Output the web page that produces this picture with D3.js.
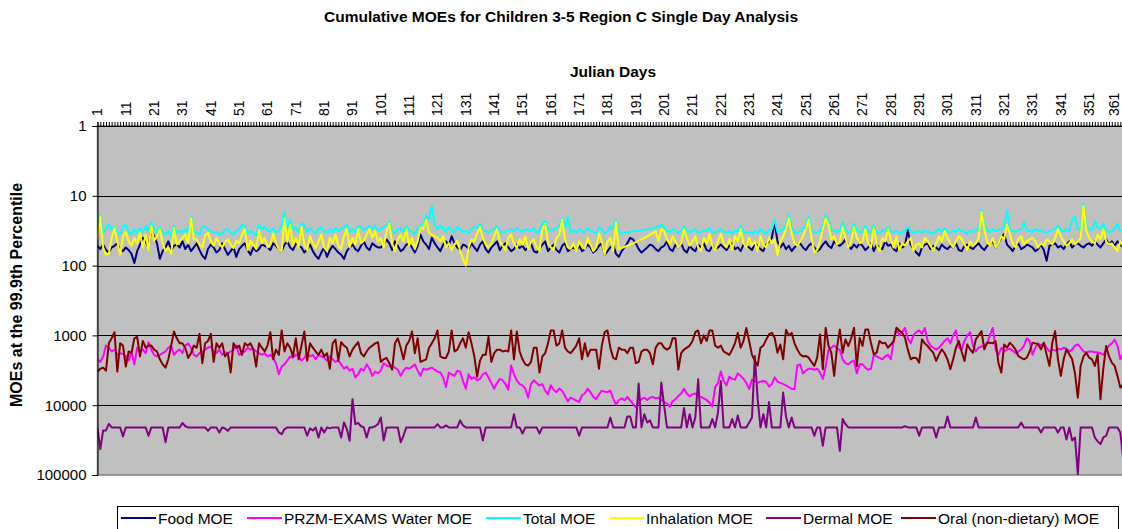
<!DOCTYPE html>
<html><head><meta charset="utf-8">
<script src="https://cdn.jsdelivr.net/npm/d3@7"></script>
<style>body{margin:0;background:#fff;} svg{display:block;font-family:Arial,"Liberation Sans",sans-serif;}</style>
</head><body><svg id="chart" width="1122" height="529"></svg>
<script>
const food = [52,58,50,60,65,55,52,48,58,62, 55,60,68,92,62,50,40,45,55,30, 38,48,80,62,55,45,60,52,50,55, 45,58,50,62,55,48,60,72,80,58, 50,55,65,60,48,58,70,62,55,75, 58,52,48,60,70,55,62,58,50,52, 55,60,48,52,58,62,50,45,55,60, 48,52,55,65,58,50,62,72,80,65, 55,75,60,52,58,65,70,80,62,55, 50,58,62,52,45,55,60,48,52,55,
55,50,42,48,60,45,52,62,58,50, 48,55,65,52,36,45,50,58,40,48, 55,62,50,45,52,38,48,55,60,50, 52,58,48,55,62,50,45,58,65,55, 50,45,60,52,48,55,62,58,50,56, 52,60,55,48,62,65,58,50,45,62, 55,50,60,65,52,48,62,58,55,60, 52,62,58,50,55,65,60,52,48,70, 62,55,50,68,75,62,55,48,40,42, 48,58,65,60,55,50,52,58,62,55,
52,45,58,62,50,55,48,60,65,52, 58,62,50,55,48,60,62,52,58,55, 50,55,60,52,48,58,55,62,50,52, 55,60,48,52,58,62,50,45,40,24, 45,55,48,58,52,62,55,50,48,55, 60,52,48,55,62,58,50,45,52,56, 45,50,52,48,42,52,58,50,55,48, 52,60,55,48,62,50,55,58,45,52, 50,58,62,48,55,52,31,50,58,65, 72,55,50,48,58,52,55,60,50,55,
58,52,55,48,60,62,52,50,55,58, 52,48,55,60,52,50,45,55,48,40, 35,50,55,62,52,48,58,55,50,52, 55,62,58,50,60,85,52,50,48,55, 52,58,50,45,55,50,48,52,55,50, 48,52,45,50,55,48,42,50,45,52, 45,50,55,48,52];

const water = [2200,2400,2000,1400,1500,1700,1600,1900,1800,1850, 2000,2300,1700,2600,1500,1700,1600,1800,1250,1600, 1900,2000,1900,1800,1700,1500,1400,1900,1700,1600, 1800,1400,1300,1500,1900,2000,1800,1700,1600,1500, 1450,1700,1800,1600,1900,1750,1800,1700,1600,1400, 1900,1800,1700,1500,1600,1550,1700,1800,1900,1800, 2000,1900,2100,2500,3600,2800,2600,2300,2000,2100, 1900,2000,2300,2100,1800,2000,1900,2200,1900,2000, 2100,2300,2000,2200,2400,2300,2600,3000,2800,3200, 3000,4000,3600,3000,3200,2600,3000,3800,3300,3500,
3200,2500,2700,2800,2700,2900,3100,3800,3200,2900, 3000,2800,2600,3200,3800,3000,3100,3000,2900,3100, 3300,3400,4000,5500,3400,3600,3800,3200,3300,4500, 5800,3600,4200,4000,4400,4200,3600,3400,4000,4800, 5800,4800,4200,4400,5000,6000,2700,3600,4400,5000, 5200,5800,7800,5000,4400,4800,5200,5000,6200,7000, 5200,6000,6500,5800,6200,7400,8800,7800,8200,8600, 9000,7200,6800,5800,6500,7600,8200,7000,6200,6400, 6500,6200,8000,9800,8500,8000,8500,7600,8500,9500, 10800,9000,8200,7800,8400,7800,7600,8000,7800,8400,
9000,9500,10500,8800,8200,7400,6800,5800,6800,7500, 7000,6800,7400,7600,8000,8400,9200,10400,5500,4800, 3300,4500,5200,3900,4200,4300,3500,3800,4200,4800, 5900,4300,4500,4800,4600,4500,4600,5400,5000,4000, 4600,4800,5000,5200,5500,5800,5900,2700,2600,3500, 3200,3000,3000,3100,3000,3400,4200,2800,1600,1500, 1400,1550,1600,2200,2500,2600,2400,2300,3500,2600, 2600,2900,3100,3000,1900,2000,2100,2200,2000,1900, 2200,1200,800,1000,900,780,1100,1300,1000,900, 850,950,780,1200,1400,1500,1600,1500,1350,1200,
1100,1300,1000,850,1500,1600,1200,1000,900,1400, 1700,1500,1450,1400,1300,1000,780,1600,1900,1500, 1700,1600,1550,1650,1800,1700,1600,1400,1100,1200, 1900,1500,1300,1400,1300,1500,1700,1600,1650,1550, 1600,1500,1550,1700,1600,1400,1350,1500,1700,1750, 1700,1700,1750,1750,1800,1900,1600,1400,1300,1150, 1400,2200,1800,1600,1700];

const total = [22,19,34,30,26,30,28,33,36,27, 26,33,36,30,34,29,33,27,32,24, 30,33,28,34,36,32,38,27,34,32, 33,30,34,20,32,34,36,27,28,30, 32,34,33,36,35,31,30,34,36,32, 30,26,27,35,32,34,37,26,30,28, 31,33,29,34,32,26,17,30,22,30, 28,34,25,26,33,29,32,35,30,28, 32,34,30,33,29,32,30,28,26,33, 30,33,27,28,31,29,27,30,27,32,
30,28,27,24,32,34,30,29,33,27, 31,33,35,30,26,27,19,22,14,26, 30,27,29,33,28,31,34,28,30,33, 32,34,30,28,29,25,30,32,34,31, 30,27,32,34,33,31,30,32,29,31, 33,30,31,32,29,34,32,25,23,30, 32,30,29,27,21,29,20,33,31,34, 30,32,34,29,31,33,35,28,30,35, 33,27,30,22,34,35,34,33,33,32, 32,32,31,31,30,30,29,28,28,26,
28,32,33,30,31,34,32,27,31,33, 32,30,34,33,31,32,29,33,34,32, 30,33,34,32,35,31,33,27,32,34, 33,35,32,34,30,33,35,31,30,22, 33,32,30,26,19,28,33,34,32,30, 26,20,31,34,33,32,26,19,23,32, 31,33,32,24,31,34,33,25,31,33, 33,27,32,34,26,33,35,31,32,28, 32,34,31,35,33,32,28,31,34,33, 32,34,31,33,34,35,32,30,33,29,
32,34,31,33,30,32,33,35,31,33, 30,32,16,26,31,33,30,32,31,30, 28,16,30,32,33,31,30,24,31,32, 33,30,32,31,33,34,32,31,30,27, 31,33,30,32,22,20,30,31,13,27, 30,31,23,28,30,25,31,33,32,30, 25,32,31,30,33];

const inhalation = [42,20,55,70,68,40,29,45,70,38, 33,45,52,40,48,34,55,36,60,27, 44,38,30,48,62,55,68,29,50,45, 40,36,48,21,42,42,50,55,37,34, 45,52,40,48,55,46,42,50,56,44, 48,36,30,60,44,50,58,31,48,40, 55,50,35,48,58,62,21,46,26,52, 40,55,28,50,60,38,48,56,45,36, 55,62,40,48,36,52,58,38,30,55, 40,50,30,48,44,36,30,40,32,46,
40,55,32,25,48,62,42,36,45,30, 52,40,58,45,28,30,22,34,36,38, 40,45,38,55,48,60,50,44,62,80, 100,55,42,45,35,28,40,50,55,48, 38,30,45,52,60,40,36,48,56,42, 50,38,58,46,42,55,62,30,25,48, 55,60,40,36,22,42,55,58,48,62, 45,52,58,40,50,62,55,35,45,70, 45,40,62,24,58,56,54,52,50,48, 46,44,42,40,38,36,34,32,45,30,
32,42,50,38,45,55,48,30,40,52, 45,38,55,62,40,48,35,52,60,45, 35,48,55,42,60,38,45,30,48,55, 40,52,45,62,38,50,55,40,48,42, 70,45,38,30,21,35,48,52,45,38, 30,22,40,65,60,45,30,21,26,42, 38,50,45,28,40,55,45,28,40,48, 45,30,48,55,28,50,62,40,45,30, 42,55,38,60,48,52,45,40,62,50, 48,55,40,45,52,60,48,38,45,32,
40,48,55,45,38,42,50,60,45,52, 48,40,17,30,45,52,40,55,48,38, 42,26,35,48,55,42,38,50,45,42, 40,45,55,48,52,42,45,50,40,30, 38,45,52,48,42,50,45,40,14,32, 40,45,48,36,42,30,45,50,48,55, 62,45,52,48,50];

const dermal = [21500,42500,23000,23000,18500,20800,20800,20800,20800,28000, 20800,20800,20800,20800,20800,20800,20800,20800,27400,20800, 20800,20800,20800,20800,34000,20800,20800,20800,20800,20800, 18000,20000,20800,20800,20800,20800,20800,20800,20800,23300, 20800,20800,20800,24600,20800,21500,23300,20800,20800,20800, 20800,20800,20800,20800,20800,20800,20800,20800,20800,20800, 20800,20800,20800,20800,24600,26000,22000,20800,20800,20800, 20800,20800,20800,20800,27400,21500,23000,20800,29000,20800, 24600,20800,21500,20800,20800,20800,29000,17700,22000,32300, 8200,18700,18000,20000,20800,29000,20800,20800,20000,18700,
15000,32000,21000,20800,20800,20800,20800,34000,27400,20800, 20800,20800,20800,20800,20800,20800,20800,20800,20800,20800, 18700,20800,20800,19500,20800,20800,20800,20800,16500,19500, 20800,20800,20800,20800,20800,20800,32000,20800,20800,20800, 20800,20800,20800,20800,20800,20800,20800,13500,20800,20800, 25500,20800,20800,20800,20800,20800,25500,20800,20800,20800, 20800,20800,20800,20800,20800,20800,20800,20800,20800,20800, 27400,20800,20800,20800,20800,20800,20800,20800,20800,20800, 20800,15000,20800,20800,20800,20800,20800,14500,14500,20800, 20800,4900,20800,13500,17700,16500,20800,20800,20800,4740,
10200,20800,20800,20800,20800,20800,20800,11000,20800,13500, 20800,15000,4250,20800,20800,20800,20800,15800,20800,12700, 4500,20800,20800,20800,15800,20800,14000,20800,20800,20800, 17700,15000,1970,8200,20800,13500,20800,9000,20800,20800, 20800,20800,6600,14500,20800,15000,20800,20800,20800,20800, 20800,20800,20800,27400,20800,20800,38000,20800,20800,20800, 20800,20800,45000,15800,18700,20800,20800,20800,20800,20800, 20800,20800,20800,20800,20800,20800,20800,20800,20800,20800, 20800,20800,20800,20800,20800,20000,20800,20800,20800,20800, 27400,20800,20800,20800,20800,20800,29000,20800,20800,20800,
14500,20800,20800,20800,20800,20800,20800,20800,20800,20800, 15000,20800,20800,20800,20800,20800,20800,20800,20800,20800, 20800,20800,20800,20800,20800,20800,17700,20800,20800,20800, 20800,20800,20800,24600,20800,20800,20800,20800,20800,24600, 20800,20800,31000,20800,32000,29000,97000,20800,20800,20800, 20800,20800,29000,33000,36000,29000,27400,20800,20800,20800, 20800,24600,59000,40000,30000];

const oral = [3300,3000,2900,3200,1300,1100,900,3300,1300,1400, 2800,1700,1800,1100,1050,2000,1200,1500,1400,1400, 1600,1700,2200,2600,2900,2200,1400,880,1100,1300, 1300,1500,2100,1800,1400,1500,950,2500,1300,1200, 950,2400,1300,1500,1300,2000,1800,3400,1300,1500, 1400,1900,1300,1400,1300,1600,2800,1300,1500,1700, 1400,900,2200,1600,1900,850,1700,1300,1500,2000, 1100,2200,1400,880,2300,1300,1500,1700,1900,1600, 2000,1800,3000,1300,1150,2300,1250,1400,1500,2000, 1600,1400,1250,1800,2000,1700,1500,1400,1300,1250,
2400,2200,2100,2500,3100,1300,1100,1500,2200,1400, 1200,880,1800,1100,2400,2300,2200,1500,1300,1100, 850,2000,2100,2100,1700,850,1700,1600,1300,1100, 1500,900,1300,2000,3900,2300,1900,1900,1050,2400, 1800,1600,1600,1700,1650,1700,850,2200,880,1700, 2200,2600,2700,2400,1500,1500,3400,2000,1800,1300, 850,850,1400,1300,850,1500,1700,1800,1600,1400, 1100,2200,1300,2000,1600,1600,1600,3000,1400,900, 850,1500,2100,2200,1500,1600,1600,1800,1500,1500, 2500,2400,1700,1600,1600,1800,2600,1500,1300,1300,
1500,1600,1500,1100,1100,3100,1800,1600,1500,1400, 1200,900,850,1300,1000,1200,850,850,1400,1500, 1400,1700,1800,1900,1600,1300,920,1500,1200,780, 1200,1900,2300,2700,1500,1400,1150,970,920,1080, 1770,1350,2200,830,1000,920,1300,1590,1870,2000, 1970,2084,2400,2740,2084,968,3060,777,1400,1770, 3810,1500,820,1770,1140,1420,1100,777,2740,1080, 1420,820,820,1300,1870,1770,1206,1300,1273,1500, 1350,1206,777,850,916,1080,1600,2200,2084,2100, 2455,1140,1300,1420,1600,1770,2325,1870,1585,1800,
2200,3060,2200,1500,1206,1700,2325,1345,1600,1770, 1140,1000,868,1585,1273,1273,1300,1206,2500,3415, 1345,1500,1273,1400,1585,1973,2100,2200,2084,1700, 1273,1300,1345,1585,1273,1900,2740,1273,868,2200, 3810,2200,1585,1868,2200,3500,7770,2740,2000,1770, 2084,2200,2740,1868,8200,3000,1420,2000,2455,2740, 3800,5600,5000,4500,4000];

const days = d3.range(1, 366);
const seriesNames = ["Food MOE", "PRZM-EXAMS Water MOE", "Total MOE", "Inhalation MOE", "Dermal MOE", "Oral (non-dietary) MOE"];
const seriesColors = ["#000080", "#FF00FF", "#00FFFF", "#FFFF00", "#800080", "#800000"];
const seriesData = [food, water, total, inhalation, dermal, oral];
const xTickLabels = ["1","11","21","31","41","51","61","71","81","91","101","111","121","131","141","151","161","171","181","191","201","211","221","231","241","251","261","271","281","291","301","311","321","331","341","351","361"];
const yTickValues = [1, 10, 100, 1000, 10000, 100000];
const yTickLabels = ["1", "10", "100", "1000", "10000", "100000"];

const svg = d3.select("#chart");
const L = 97.5, T = 126, B = 475, step = 2.8333;
const x = d3.scaleLinear().domain([1, 365]).range([L, L + 364 * step]);
const y = d3.scaleLog().domain([1, 100000]).range([T, B]);

// titles
svg.append("text").attr("x", 561).attr("y", 22).attr("text-anchor", "middle")
  .style("font-weight", "bold").style("font-size", "15.5px")
  .text("Cumulative MOEs for Children 3-5 Region C Single Day Analysis");
svg.append("text").attr("x", 613).attr("y", 77).attr("text-anchor", "middle")
  .style("font-weight", "bold").style("font-size", "15.5px").text("Julian Days");
svg.append("text").attr("transform", "translate(22,295) rotate(-90)").attr("text-anchor", "middle")
  .style("font-weight", "bold").style("font-size", "16px").text("MOEs at the 99.9th Percentile");

// plot area
svg.append("rect").attr("x", L).attr("y", T).attr("width", x(365) - L).attr("height", B - T)
  .attr("fill", "#C0C0C0").attr("stroke", "#808080").attr("stroke-width", 1.5);

// gridlines
svg.append("g").selectAll("line").data(yTickValues.slice(1, 5)).enter().append("line")
  .attr("x1", L).attr("x2", x(365)).attr("y1", d => Math.round(y(d)) + 0.5).attr("y2", d => Math.round(y(d)) + 0.5)
  .attr("stroke", "#000").attr("stroke-width", 1);

// series
svg.append("clipPath").attr("id", "clip").append("rect")
  .attr("x", L).attr("y", T).attr("width", x(365) - L).attr("height", B - T);
const line = d3.line().x((d, i) => x(days[i])).y(d => y(d));
const gLines = svg.append("g").attr("clip-path", "url(#clip)");
seriesData.forEach((arr, k) => {
  gLines.append("path").datum(arr).attr("d", line).attr("fill", "none")
    .attr("stroke", seriesColors[k]).attr("stroke-width", 2).attr("stroke-linejoin", "round");
});

// top axis
const xAxis = d3.axisTop(x).tickValues(days).tickSize(4)
  .tickFormat(d => xTickLabels.includes(String(d)) ? String(d) : "");
const gx = svg.append("g").attr("transform", `translate(0,${T})`).call(xAxis);
gx.select(".domain").attr("stroke", "#000");
gx.selectAll(".tick line").attr("stroke", "#000");
gx.selectAll(".tick text").attr("transform", "rotate(-90)").attr("text-anchor", "start")
  .attr("x", 10).attr("y", d => d === 361 ? -3 : 0).attr("dy", "0.3em")
  .style("font-size", "14px").style("font-family", "Arial, 'Liberation Sans', sans-serif").attr("fill", "#000");

// left axis
const yAxis = d3.axisLeft(y).tickValues(yTickValues).tickSize(5).tickPadding(6)
  .tickFormat((d, i) => yTickLabels[i]);
const gy = svg.append("g").attr("transform", `translate(${L},0)`).call(yAxis);
gy.select(".domain").attr("stroke", "#000");
gy.selectAll(".tick line").attr("stroke", "#000");
gy.selectAll(".tick text").style("font-size", "15px").style("font-family", "Arial, 'Liberation Sans', sans-serif").attr("fill", "#000");

// legend
const lg = svg.append("g");
lg.append("rect").attr("x", 117.5).attr("y", 506.5).attr("width", 1001).attr("height", 30)
  .attr("fill", "#fff").attr("stroke", "#000");
const legendX = [121, 247, 486, 609, 766, 901];
seriesNames.forEach((name, k) => {
  lg.append("line").attr("x1", legendX[k]).attr("x2", legendX[k] + 35).attr("y1", 518).attr("y2", 518)
    .attr("stroke", seriesColors[k]).attr("stroke-width", 2);
  lg.append("text").attr("x", legendX[k] + 37).attr("y", 523.5).style("font-size", "15.5px").text(name);
});
</script></body></html>
